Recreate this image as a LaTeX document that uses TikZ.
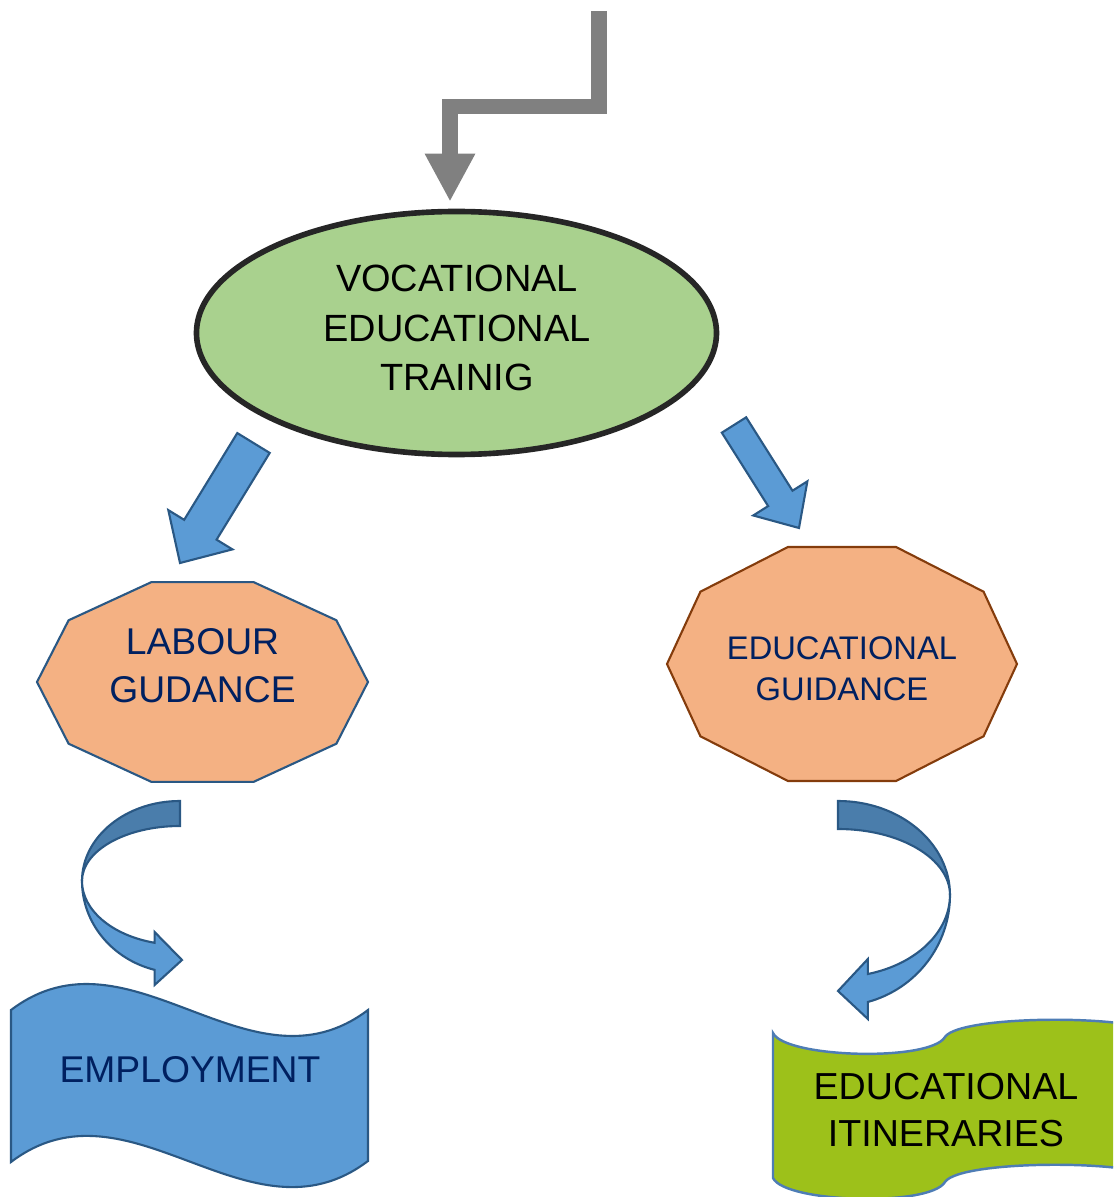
\documentclass[tikz,border=0pt]{standalone}
\usepackage{fontspec}
\setmainfont{Liberation Sans}
\usetikzlibrary{arrows.meta,positioning,calc,shapes.geometric}
\definecolor{vgray}{HTML}{808080}
\definecolor{vink}{HTML}{262626}
\definecolor{vleaf}{HTML}{A9D18E}
\definecolor{vpeach}{HTML}{F4B183}
\definecolor{vbrown}{HTML}{843C0C}
\definecolor{vsky}{HTML}{5B9BD5}
\definecolor{vsteel}{HTML}{4A7DAB}
\definecolor{vline}{HTML}{2A5884}
\definecolor{vnavy}{HTML}{002060}
\definecolor{vlime}{HTML}{9DC11A}
\definecolor{vrim}{HTML}{4E7DB5}
\tikzset{
  oval/.style={ellipse,draw=vink,fill=vleaf,line width=1.6pt,minimum width=5.2cm,minimum height=2.43cm},
  lbl/.style={align=center,inner sep=0pt,font=\fontsize{10.6}{13.6}\selectfont},
  decag/.style={fill=vpeach,line width=0.6pt,line join=miter},
  gry/.style={draw=vgray,line width=0.155cm,line join=miter,-{Triangle[length=0.48cm,width=0.47cm]}},
  blk/.style={fill=vsky,draw=vline,line width=0.6pt,line join=miter},
  cback/.style={fill=vsteel,draw=vline,line width=0.6pt},
  cfront/.style={fill=vsky,draw=vline,line width=0.6pt,line join=miter},
  wave/.style={fill=vsky,draw=vline,line width=0.6pt},
  flag/.style={fill=vlime,draw=vrim,line width=0.7pt},
}
\begin{document}
\begin{tikzpicture}
  \useasboundingbox (0,0) rectangle (11.13,11.97);
  % top node and the bent feed arrow
  \node[oval] (vet) at (4.565,8.64) {};
  \node[lbl,font=\fontsize{10.8}{14.1}\selectfont] (vett) at (4.57,8.69) {VOCATIONAL\\EDUCATIONAL\\TRAINIG};
  \coordinate (src) at (5.99,11.86);
  \draw[gry,shorten >=0.07cm] (src) -- ++(0,-0.955) -| ([xshift=-0.065cm]vet.north);
  % guidance decagons
  \coordinate (labc) at (2.025,5.15);
  \coordinate (edgc) at (8.42,5.33);
  \filldraw[decag,draw=vline] ($(labc)+(0:1.655 and 1.05)$) \foreach \a in {36,72,...,324} { -- ($(labc)+(\a:1.655 and 1.05)$) } -- cycle;
  \filldraw[decag,draw=vbrown] ($(edgc)+(0:1.75 and 1.23)$) \foreach \a in {36,72,...,324} { -- ($(edgc)+(\a:1.75 and 1.23)$) } -- cycle;
  \node[lbl,text=vnavy] (lab) at (2.025,5.31) {LABOUR\\GUDANCE};
  \node[lbl,text=vnavy,font=\fontsize{9.3}{11.7}\selectfont] (edg) at (8.42,5.285) {EDUCATIONAL\\GUIDANCE};
  % straight block arrows
  \coordinate (l0) at (2.535,7.54); \coordinate (l1) at (1.80,6.34);
  \coordinate (r0) at (7.34,7.72);  \coordinate (r1) at (7.99,6.69);
  \foreach \a/\b/\w/\h/\l in {l0/l1/0.19cm/0.376cm/0.39cm, r0/r1/0.144cm/0.32cm/0.35cm} {
    \coordinate (hb) at ($(\b)!\l!(\a)$);
    \filldraw[blk] ($(\a)!\w!90:(\b)$) -- ($(hb)!\w!90:(\b)$) -- ($(hb)!\h!90:(\b)$) -- (\b)
      -- ($(hb)!\h!-90:(\b)$) -- ($(hb)!\w!-90:(\b)$) -- ($(\a)!\w!-90:(\b)$) -- cycle;
  }
  % curved arrows
  \coordinate (lc) at (1.80,3.16);
  \filldraw[cback] ($(lc)+(0,0.80)$) arc[start angle=90,end angle=180,x radius=0.98cm,y radius=0.80cm]
    arc[start angle=180,end angle=90,x radius=0.98cm,y radius=0.55cm] -- cycle;
  \filldraw[cfront] ($(lc)+(-0.98,0)$) arc[start angle=180,end angle=255,x radius=0.98cm,y radius=0.92cm]
    -- (1.546,2.12) -- (1.82,2.37) -- (1.546,2.65) -- (1.546,2.542)
    arc[start angle=255,end angle=180,x radius=0.98cm,y radius=0.64cm] -- cycle;
  \coordinate (rc) at (8.38,3.02);
  \filldraw[cback] ($(rc)+(0,0.94)$) arc[start angle=90,end angle=0,x radius=1.12cm,y radius=0.94cm]
    arc[start angle=0,end angle=90,x radius=1.12cm,y radius=0.66cm] -- cycle;
  \filldraw[cfront] ($(rc)+(1.12,0)$) arc[start angle=0,end angle=-74.5,x radius=1.12cm,y radius=1.11cm]
    -- (8.679,1.78) -- (8.38,2.06) -- (8.679,2.38) -- (8.679,2.230)
    arc[start angle=-74.5,end angle=0,x radius=1.12cm,y radius=0.82cm] -- cycle;
  % outcome banners
  \filldraw[wave] (0.11,1.87) .. controls (1.30,2.77) and (2.49,0.97) .. (3.68,1.87) -- (3.68,0.36)
    .. controls (2.49,-0.54) and (1.30,1.25) .. (0.11,0.35) -- cycle;
  \node[lbl,text=vnavy] (emp) at (1.90,1.27) {EMPLOYMENT};
  \begin{scope}
    \clip (0,0) rectangle (11.13,11.97);
    \filldraw[flag] (7.73,1.64) .. controls (7.85,1.39) and (9.30,1.35) .. (9.45,1.60)
      .. controls (9.60,1.83) and (11.50,1.83) .. (11.65,1.60) -- (11.65,0.15)
      .. controls (11.50,0.38) and (9.60,0.38) .. (9.45,0.15)
      .. controls (9.30,-0.10) and (7.85,-0.06) .. (7.73,0.19) -- cycle;
  \end{scope}
  \node[lbl,font=\fontsize{10.7}{13.4}\selectfont] (iti) at (9.46,0.87) {EDUCATIONAL\\ITINERARIES};
\end{tikzpicture}
\end{document}
